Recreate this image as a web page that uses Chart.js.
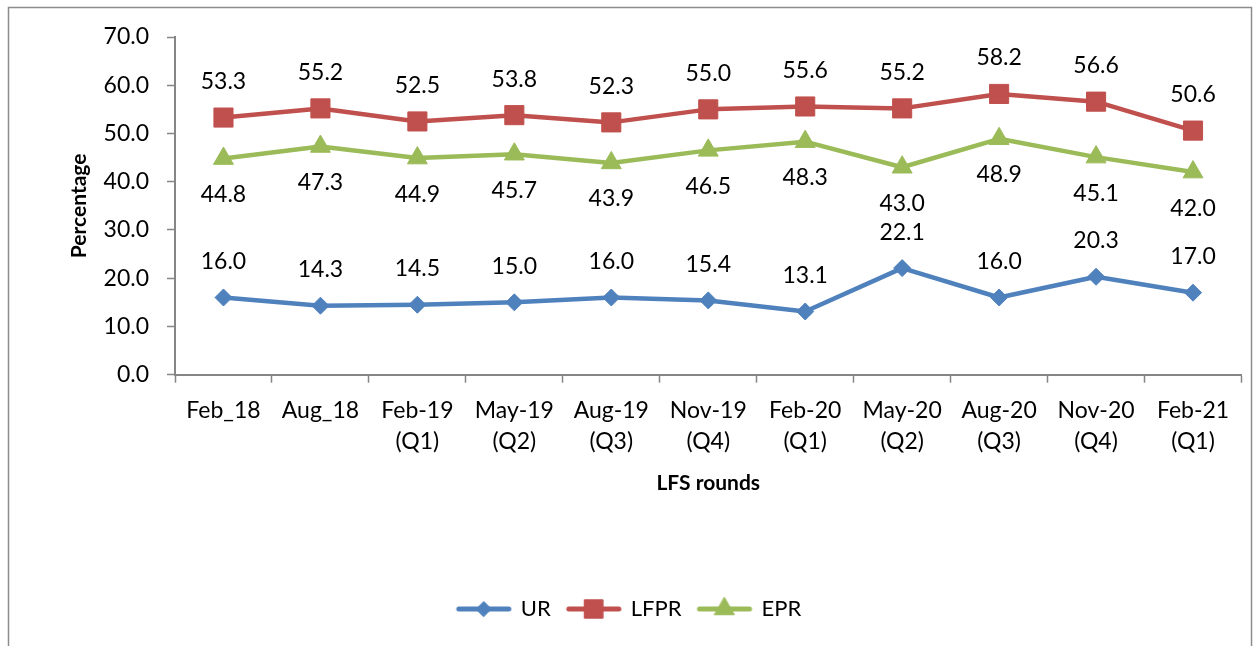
<!DOCTYPE html>
<html>
<head>
<meta charset="utf-8">
<script src="https://cdn.jsdelivr.net/npm/chart.js@4"></script>
<style>
  html, body { margin: 0; padding: 0; background: #fff; }
</style>
</head>
<body>
<canvas id="lfsChart" width="1256" height="646"></canvas>
<script>
// LFS rounds on the x axis (two-line labels)
const rounds = [
    ['Feb_18'], ['Aug_18'],
    ['Feb-19', '(Q1)'], ['May-19', '(Q2)'], ['Aug-19', '(Q3)'], ['Nov-19', '(Q4)'],
    ['Feb-20', '(Q1)'], ['May-20', '(Q2)'], ['Aug-20', '(Q3)'], ['Nov-20', '(Q4)'],
    ['Feb-21', '(Q1)']
];
const urValues = [16.0, 14.3, 14.5, 15.0, 16.0, 15.4, 13.1, 22.1, 16.0, 20.3, 17.0];
const lfprValues = [53.3, 55.2, 52.5, 53.8, 52.3, 55.0, 55.6, 55.2, 58.2, 56.6, 50.6];
const eprValues = [44.8, 47.3, 44.9, 45.7, 43.9, 46.5, 48.3, 43.0, 48.9, 45.1, 42.0];

const FONT = 'Lato';
const blue = '#4F81BD';
const red = '#C0504D';
const green = '#9BBB59';
const axisGrey = '#868686';

// Little line+marker pictures for the legend
function legendSwatch(color, style, radius) {
    const c = document.createElement('canvas');
    c.width = 58;
    c.height = 26;
    const g = c.getContext('2d');
    g.strokeStyle = color;
    g.lineWidth = 5;
    g.lineCap = 'round';
    g.beginPath();
    g.moveTo(4, 13);
    g.lineTo(54, 13);
    g.stroke();
    g.fillStyle = color;
    g.lineWidth = 1;
    Chart.helpers.drawPoint(g, { pointStyle: style, radius: radius, borderWidth: 1 }, 29, 13);
    return c;
}

// Draws value labels above / below each point
const pointLabels = {
    id: 'pointLabels',
    afterDatasetsDraw(chart) {
        const ctx = chart.ctx;
        ctx.save();
        ctx.font = '23px ' + FONT;
        ctx.fillStyle = '#000';
        ctx.textAlign = 'center';
        ctx.textBaseline = 'middle';
        chart.data.datasets.forEach((ds, i) => {
            const meta = chart.getDatasetMeta(i);
            const shift = ds.labelSide === 'below' ? 36 : -36;
            meta.data.forEach((pt, j) => {
                ctx.fillText(ds.data[j].toFixed(1), pt.x, pt.y + shift);
            });
        });
        ctx.restore();
    }
};

// White background and the outer grey frame
const frame = {
    id: 'frame',
    beforeDraw(chart) {
        const ctx = chart.ctx;
        ctx.save();
        ctx.fillStyle = '#fff';
        ctx.fillRect(0, 0, chart.width, chart.height);
        ctx.strokeStyle = '#8c8c8c';
        ctx.lineWidth = 1.5;
        ctx.strokeRect(8.5, 7.5, 1243, 700);
        ctx.restore();
    }
};

const swatches = [
    legendSwatch(blue, 'rectRot', 7.5),
    legendSwatch(red, 'rect', 13),
    legendSwatch(green, 'triangle', 11.5)
];

const ctx = document.getElementById('lfsChart').getContext('2d');
const lfsChart = new Chart(ctx, {
    type: 'line',
    data: {
        labels: rounds,
        datasets: [
            {
                label: 'UR',
                data: urValues,
                borderColor: blue,
                backgroundColor: blue,
                pointStyle: 'rectRot',
                pointRadius: 8.5,
                labelSide: 'above'
            },
            {
                label: 'LFPR',
                data: lfprValues,
                borderColor: red,
                backgroundColor: red,
                pointStyle: 'rect',
                pointRadius: 13.5,
                labelSide: 'above'
            },
            {
                label: 'EPR',
                data: eprValues,
                borderColor: green,
                backgroundColor: green,
                pointStyle: 'triangle',
                pointRadius: 11.5,
                labelSide: 'below'
            }
        ]
    },
    options: {
        responsive: false,
        animation: false,
        devicePixelRatio: 1,
        layout: {
            padding: { left: 16, right: 13, top: 37, bottom: 16 }
        },
        elements: {
            line: {
                borderWidth: 4.5,
                tension: 0,
                borderCapStyle: 'round',
                borderJoinStyle: 'round'
            },
            point: {
                borderWidth: 1,
                hoverRadius: 8
            }
        },
        scales: {
            x: {
                offset: true,
                grid: {
                    offset: true,
                    drawOnChartArea: false,
                    tickLength: 8,
                    tickColor: axisGrey,
                    tickWidth: 1.5
                },
                border: { color: axisGrey, width: 2 },
                ticks: {
                    color: '#000',
                    padding: 12,
                    maxRotation: 0,
                    autoSkip: false,
                    font: { family: FONT, size: 23, lineHeight: 1.35 }
                },
                title: {
                    display: true,
                    text: 'LFS rounds',
                    color: '#000',
                    font: { family: FONT, size: 21, weight: 'bold', lineHeight: 1.2 },
                    padding: { top: 2, bottom: 85 }
                }
            },
            y: {
                min: 0,
                max: 70,
                afterFit(scale) {
                    scale.width = 159; // puts the axis line at x = 175
                },
                grid: {
                    drawOnChartArea: false,
                    tickLength: 8,
                    tickColor: axisGrey,
                    tickWidth: 1.5
                },
                border: { color: axisGrey, width: 2 },
                ticks: {
                    stepSize: 10,
                    color: '#000',
                    padding: 18,
                    font: { family: FONT, size: 23 },
                    callback: v => v.toFixed(1)
                },
                title: {
                    display: true,
                    text: 'Percentage',
                    color: '#000',
                    font: { family: FONT, size: 21, weight: 'bold', lineHeight: 1.2 },
                    padding: { top: 51, bottom: 9 }
                }
            }
        },
        plugins: {
            legend: {
                position: 'bottom',
                labels: {
                    usePointStyle: true,
                    pointStyleWidth: 52,
                    padding: 17,
                    color: '#000',
                    font: { family: FONT, size: 22 },
                    generateLabels(chart) {
                        const items = Chart.defaults.plugins.legend.labels.generateLabels(chart);
                        items.forEach((it, i) => { it.pointStyle = swatches[i]; });
                        return items;
                    }
                }
            },
            tooltip: { enabled: false }
        }
    },
    plugins: [frame, pointLabels]
});
</script>
</body>
</html>
